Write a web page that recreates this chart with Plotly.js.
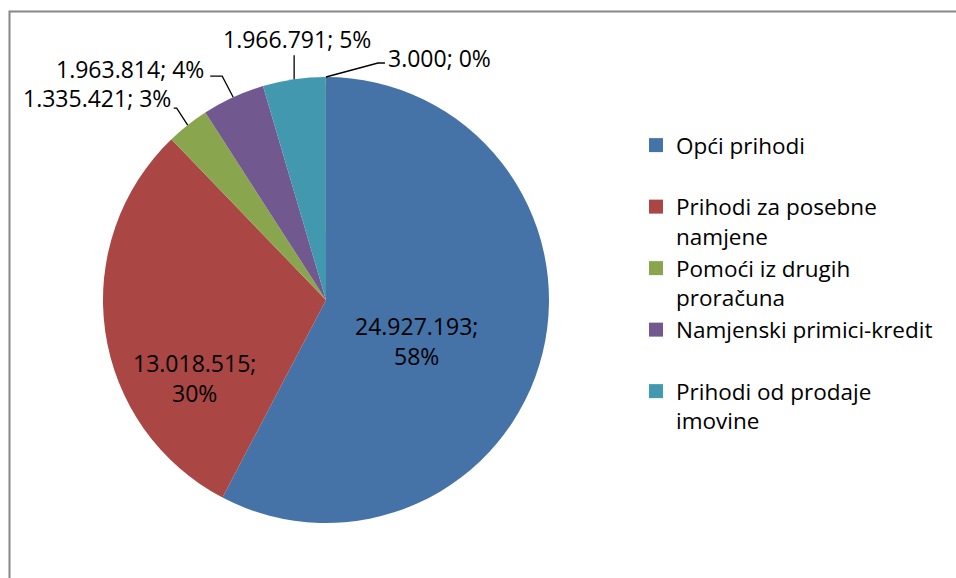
<!DOCTYPE html>
<html>
<head>
<meta charset="utf-8">
<script src="https://cdn.plot.ly/plotly-3.0.1.min.js"></script>
<style>
  html, body { margin: 0; padding: 0; background: #fff; }
  #chart { width: 956px; height: 578px; }
</style>
</head>
<body>
<div id="chart"></div>
<script>
// ---- data ----
const categories = ['Opći prihodi', 'Prihodi za posebne namjene', 'Pomoći iz drugih proračuna', 'Namjenski primici-kredit', 'Prihodi od prodaje imovine', 'Ostalo'];
const values = [24927193, 13018515, 1335421, 1963814, 1966791, 3000];
const pctLabels = ['58%', '30%', '3%', '4%', '5%', '0%'];
const legendNames = ['Opći prihodi<br> ', 'Prihodi za posebne<br>namjene', 'Pomoći iz drugih<br>proračuna', 'Namjenski primici-kredit<br> ', 'Prihodi od prodaje<br>imovine'];

// ---- styles / layout constants ----
const colors = ['#4572A7', '#AA4643', '#89A54E', '#71588F', '#4198AF', '#DB843D'];
const W = 956, H = 578;
const CX = 326, CY = 300, R = 223;
const FONT = '"Open Sans", "Noto Sans", sans-serif';
const FS = 23;
const LFS = 22.5;

function fmt(v) { return String(v).replace(/\B(?=(\d{3})+(?!\d))/g, '.'); }
const px = x => x / W;
const py = y => 1 - y / H;

// slice angles from data (clockwise from 12 o'clock)
const total = values.reduce((a, b) => a + b, 0);
let cum = 0;
const mids = values.map(v => { const m = (cum + v / 2) / total * 2 * Math.PI; cum += v; return m; });
const edge = i => [CX + R * Math.sin(mids[i]), CY - R * Math.cos(mids[i])];

// label placement (layout only)
const inside = {0: [416, 341], 1: [194, 378]};
const outside = {
  2: {bend: [-11, -17], tail: -3, anchor: 'right', dx: -1, dy: -10},
  3: {bend: [-11, -21], tail: -12, anchor: 'right', dx: -4, dy: -7},
  4: {bend: [0, -24], tail: 0, anchor: 'center', dx: 3, dy: -16},
  5: {bend: [52, -14], tail: 7, anchor: 'left', dx: 1, dy: -5}
};

const annotations = [];
const shapes = [];
values.forEach((v, i) => {
  if (inside[i]) {
    annotations.push({
      xref: 'paper', yref: 'paper', x: px(inside[i][0]), y: py(inside[i][1]),
      text: fmt(v) + ';<br>' + pctLabels[i], showarrow: false,
      xanchor: 'center', yanchor: 'middle', font: {family: FONT, size: FS, color: '#000'}
    });
  } else {
    const o = outside[i];
    const P = edge(i);
    const B = [P[0] + o.bend[0], P[1] + o.bend[1]];
    const E = [B[0] + o.tail, B[1]];
    shapes.push({
      type: 'path', xref: 'paper', yref: 'paper',
      path: 'M' + px(P[0]) + ',' + py(P[1]) + ' L' + px(B[0]) + ',' + py(B[1]) + ' L' + px(E[0]) + ',' + py(E[1]),
      line: {color: '#000', width: 1.3}
    });
    annotations.push({
      xref: 'paper', yref: 'paper', x: px(E[0] + o.dx), y: py(E[1] + o.dy),
      text: fmt(v) + '; ' + pctLabels[i], showarrow: false,
      xanchor: o.anchor, yanchor: 'middle', font: {family: FONT, size: FS, color: '#000'}
    });
  }
});

// frame
shapes.push({type: 'path', xref: 'paper', yref: 'paper',
  path: 'M' + px(9.5) + ',' + py(600) + ' L' + px(9.5) + ',' + py(11.5) + ' L' + px(1000) + ',' + py(11.5),
  line: {color: '#868686', width: 2}});

const traces = [{
  type: 'pie',
  labels: categories,
  values: values,
  sort: false,
  direction: 'clockwise',
  rotation: 0,
  textinfo: 'none',
  hoverinfo: 'label+value+percent',
  marker: {colors: colors, line: {width: 0}},
  showlegend: false,
  domain: {x: [px(CX - R), px(CX + R)], y: [py(CY + R), py(CY - R)]}
}];
legendNames.forEach((n, i) => {
  traces.push({
    type: 'scatter', mode: 'markers', x: [null], y: [null], name: n,
    marker: {symbol: 'square', size: 14, color: colors[i]},
    showlegend: true, hoverinfo: 'skip'
  });
});

const layout = {
  width: W, height: H,
  margin: {l: 0, r: 0, t: 0, b: 0},
  paper_bgcolor: '#fff', plot_bgcolor: '#fff',
  xaxis: {visible: false}, yaxis: {visible: false},
  showlegend: true,
  legend: {
    x: px(636), y: py(124), xanchor: 'left', yanchor: 'top',
    valign: 'top', bgcolor: 'rgba(0,0,0,0)',
    font: {family: FONT, size: LFS, color: '#000'},
    tracegroupgap: 0
  },
  annotations: annotations,
  shapes: shapes,
  font: {family: FONT}
};

Plotly.newPlot('chart', traces, layout, {displayModeBar: false, staticPlot: true});
</script>
</body>
</html>
